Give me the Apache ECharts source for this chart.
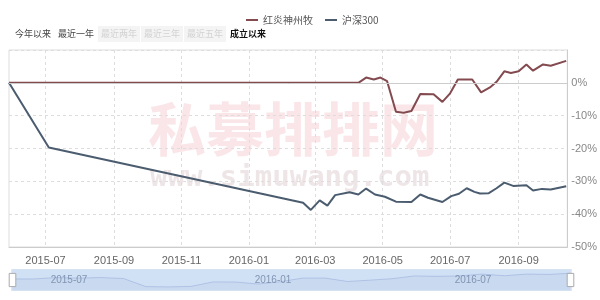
<!DOCTYPE html>
<html><head><meta charset="utf-8">
<script src="https://cdn.jsdelivr.net/npm/echarts@6/dist/echarts.min.js"></script>
<style>html,body{margin:0;padding:0;background:#fff}#c{width:600px;height:300px}</style>
</head><body><div id="c"></div>
<script>
const seriesNames = ['红炎神州牧', '沪深300'];
const fundDates = ['2015-05-29','2016-04-09','2016-04-16','2016-04-23','2016-04-29','2016-05-05','2016-05-13','2016-05-20','2016-05-27','2016-06-04','2016-06-16','2016-06-24','2016-07-01','2016-07-08','2016-07-21','2016-07-29','2016-08-06','2016-08-12','2016-08-19','2016-08-25','2016-09-01','2016-09-08','2016-09-14','2016-09-23','2016-09-30','2016-10-14'];
const fundValues = [0,0,1.6,1.0,1.6,0.5,-8.8,-9.1,-8.6,-3.4,-3.5,-5.8,-3.2,1.0,1.0,-2.9,-1.4,0.3,3.5,3.0,3.5,5.6,3.7,5.6,5.2,6.7];
const indexDates = ['2015-05-29','2015-07-04','2016-02-19','2016-02-26','2016-03-05','2016-03-12','2016-03-19','2016-04-01','2016-04-09','2016-04-16','2016-04-24','2016-05-03','2016-05-13','2016-05-27','2016-06-04','2016-06-11','2016-06-24','2016-07-02','2016-07-09','2016-07-16','2016-07-23','2016-07-28','2016-08-05','2016-08-12','2016-08-19','2016-08-27','2016-09-08','2016-09-14','2016-09-22','2016-09-30','2016-10-14'];
const indexValues = [0,-19.7,-36.5,-38.7,-35.8,-37.4,-34.2,-33.3,-34.0,-32.2,-34.0,-34.7,-36.2,-36.3,-34.0,-35.0,-36.3,-34.5,-33.8,-32.1,-33.2,-33.7,-33.6,-32.1,-30.4,-31.4,-31.2,-32.8,-32.3,-32.5,-31.5];
const xTicks = ['2015-07-01','2015-09-01','2015-11-01','2016-01-01','2016-03-01','2016-05-01','2016-07-01','2016-09-01'];
const xMin = '2015-05-29', xMax = '2016-10-15';
const yMin = -50, yMax = 10, yStep = 10;
const rangeButtons = ['今年以来','最近一年','最近两年','最近三年','最近五年','成立以来'];
const sliderLabels = ['2015-07','2016-01','2016-07'];

const CJK = '"Noto Sans CJK SC", sans-serif';
const chart = echarts.init(document.getElementById('c'));
const zip = (d, v) => d.map((x, i) => [x, v[i]]);

// daily category axis between xMin and xMax
const pad = n => (n < 10 ? '0' : '') + n;
const days = [];
{
  const [y0, m0, d0] = xMin.split('-').map(Number);
  const t = new Date(Date.UTC(y0, m0 - 1, d0));
  while (true) {
    const s = t.getUTCFullYear() + '-' + pad(t.getUTCMonth() + 1) + '-' + pad(t.getUTCDate());
    days.push(s);
    if (s === xMax) break;
    t.setUTCDate(t.getUTCDate() + 1);
  }
}
const isTick = (i, v) => xTicks.indexOf(v) >= 0;

const btnX = [15, 58, 101, 144, 187, 230];
const graphics = [];
rangeButtons.forEach((t, i) => {
  const light = i >= 2 && i <= 4;
  if (light) graphics.push({type:'rect', left: btnX[i]-3, top: 26, shape:{width:42,height:16}, style:{fill:'#f4f4f4'}, silent:true});
  graphics.push({type:'text', x: btnX[i], y: 34, style:{text:t, fill: i===5 ? '#111' : (light ? '#d2d2d2' : '#444'), font: (i===5?'bold ':'') + '9px ' + CJK, verticalAlign:'middle'}, silent:true});
});
graphics.push({type:'text', left:148, top:100, style:{text:'私募排排网', fill:'rgba(235,160,165,0.26)', font:'bold 58px ' + CJK}, silent:true, z:-1});
graphics.push({type:'text', left:150, top:164, style:{text:'www.simuwang.com', fill:'rgba(200,170,175,0.3)', font:'bold 29px "DejaVu Sans Mono", monospace'}, silent:true, z:-1});
const slX = [69, 273, 473];
sliderLabels.forEach((t, i) => {
  graphics.push({type:'text', x: slX[i], y: 280, style:{text:t, fill:'rgba(110,130,160,0.8)', font:'10px sans-serif', align:'center', verticalAlign:'middle'}, silent:true, z:100});
});

chart.setOption({
  animation: false,
  color: ['#834a4f', '#4b5c6f'],
  legend: {
    top: 10, left: 241, itemWidth: 12, itemHeight: 2, icon: 'rect', itemGap: 12,
    textStyle: {color:'#555', fontSize: 10, fontFamily: CJK},
    data: seriesNames
  },
  grid: {left: 9, right: 30, top: 50, bottom: 53, show: true, borderColor: '#ddd', borderWidth: 1, backgroundColor: 'transparent'},
  xAxis: {
    type: 'category', data: days, boundaryGap: false,
    axisLine: {onZero: false, lineStyle: {color: '#ccc'}},
    axisTick: {show: false, interval: isTick},
    axisLabel: {interval: isTick, color: '#666', fontSize: 11, margin: 8, formatter: v => v.slice(0, 7)},
    splitLine: {show: true, interval: isTick, lineStyle: {color: '#ddd', type: [3, 3]}}
  },
  yAxis: {
    type: 'value', position: 'right', min: yMin, max: yMax, interval: yStep,
    axisLine: {show: true, lineStyle: {color: '#ccc'}},
    axisTick: {show: false},
    axisLabel: {color: '#888', fontSize: 11, margin: 4, formatter: v => (v === yMax ? '' : v + '%')},
    splitLine: {lineStyle: {color: '#ddd', type: [3, 3]}}
  },
  dataZoom: [{
    type: 'slider', xAxisIndex: 0, left: 9, right: 31, bottom: 9, height: 22,
    start: 0, end: 100, showDetail: false, brushSelect: false,
    backgroundColor: '#e6effa', borderColor: '#d5e2f2',
    fillerColor: 'rgba(170,200,235,0.35)',
    dataBackground: {lineStyle: {color: '#b5c9e3', opacity: 1}, areaStyle: {color: '#bcd0ea', opacity: 1}},
    handleIcon: 'path://M0,0 h6 v12 h-6 Z', handleSize: '60%',
    handleStyle: {color: '#fff', borderColor: '#aaa'},
    moveHandleSize: 0
  }],
  graphic: graphics,
  series: [
    {name: seriesNames[0], type: 'line', showSymbol: false, symbol: 'none', connectNulls: true, data: zip(fundDates, fundValues),
      lineStyle: {width: 2}, z: 3,
      markLine: {silent: true, symbol: 'none', label: {show: false}, lineStyle: {color: '#ccc', type: 'solid', width: 1}, data: [{yAxis: 0}]}},
    {name: seriesNames[1], type: 'line', showSymbol: false, symbol: 'none', connectNulls: true, data: zip(indexDates, indexValues),
      lineStyle: {width: 2}, z: 3}
  ]
});
</script></body></html>
